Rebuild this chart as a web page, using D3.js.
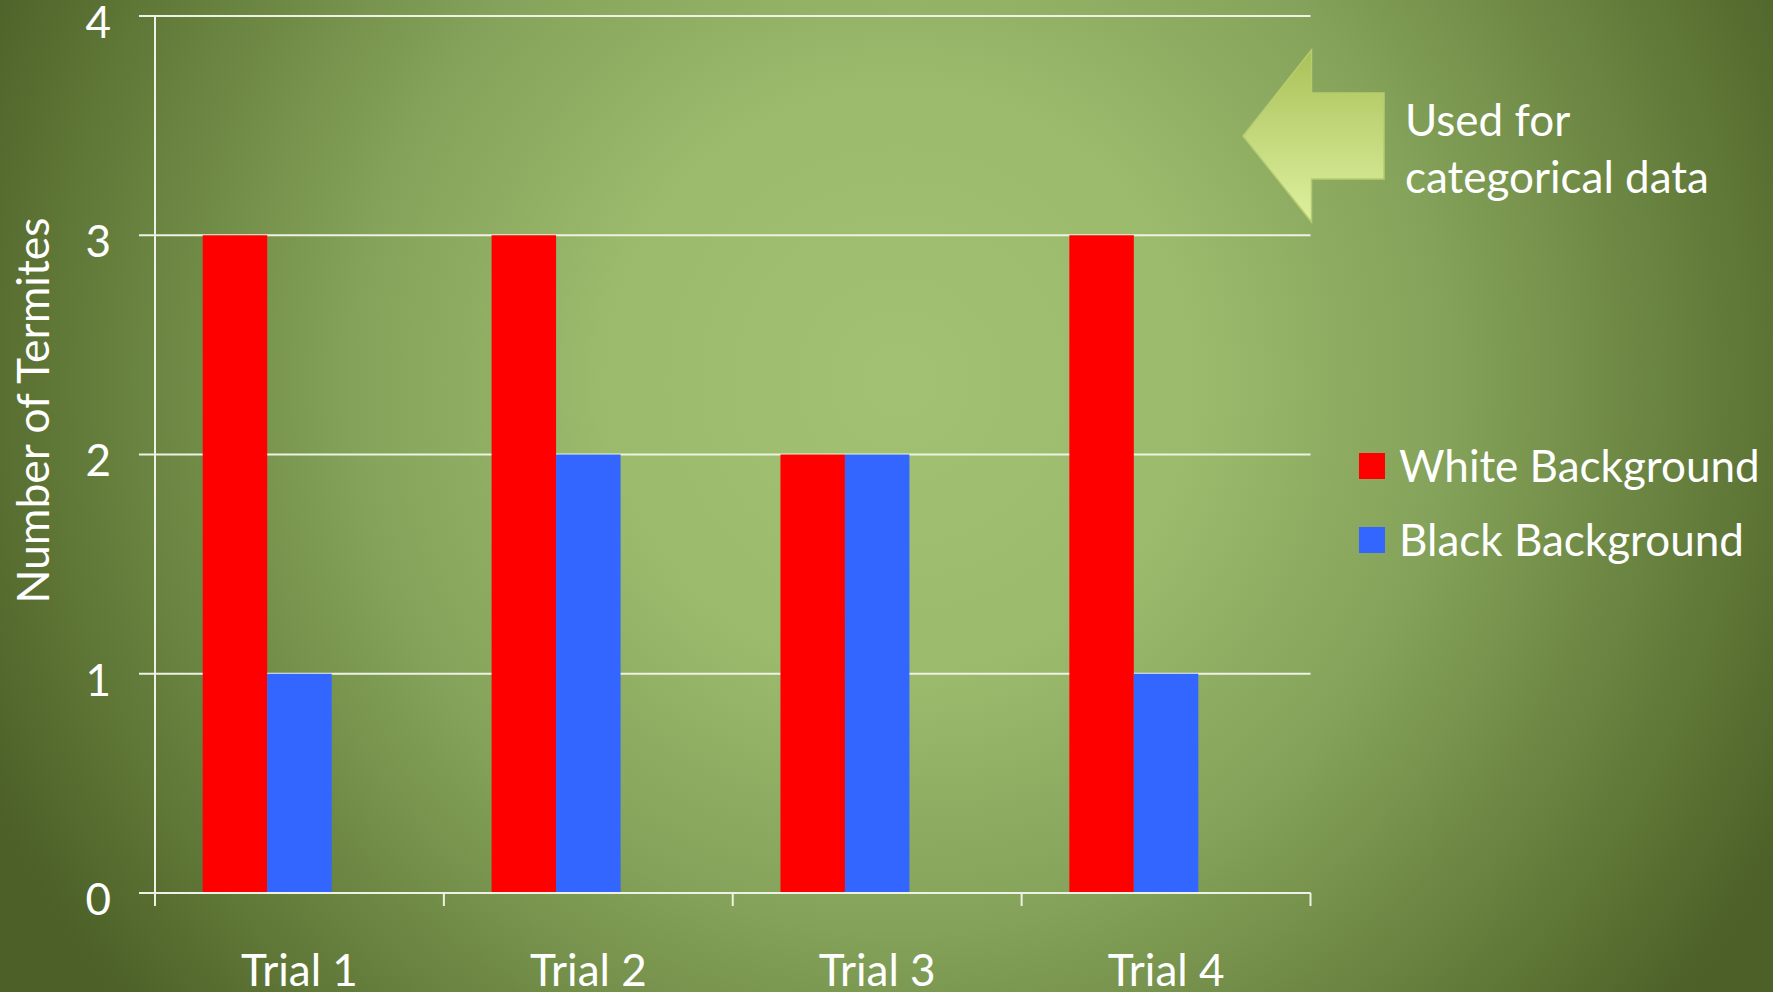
<!DOCTYPE html>
<html>
<head>
<meta charset="utf-8">
<script src="https://cdn.jsdelivr.net/npm/d3@7"></script>
<style>
  html, body { margin: 0; padding: 0; background: #55692f; }
  svg { display: block; }
  text { font-family: "Lato", "Open Sans", sans-serif; fill: #ffffff; }
</style>
</head>
<body>
<script>
// ---- data ----
const categories = ["Trial 1", "Trial 2", "Trial 3", "Trial 4"];
const seriesNames = ["White Background", "Black Background"];
const whiteBackground = [3, 3, 2, 3];
const blackBackground = [1, 2, 2, 1];
const seriesColors = ["#ff0000", "#3366ff"];
const yTicks = [0, 1, 2, 3, 4];
const yTitle = "Number of Termites";
const noteLines = ["Used for", "categorical data"];

const W = 1773, H = 992;
const margin = { left: 155, right: 1310.5, top: 16, bottom: 893 };

const svg = d3.select("body").append("svg").attr("width", W).attr("height", H);
const defs = svg.append("defs");

// background radial gradient
const bg = defs.append("radialGradient").attr("id", "bg")
  .attr("gradientUnits", "userSpaceOnUse")
  .attr("cx", 900).attr("cy", 380).attr("r", 1000);
[[0, "#a2c173"], [0.3, "#9bba6c"], [0.55, "#84a259"], [0.8, "#657e3c"], [1, "#4c6027"]]
  .forEach(([o, c]) => bg.append("stop").attr("offset", o).attr("stop-color", c));
svg.append("rect").attr("width", W).attr("height", H).attr("fill", "url(#bg)");

// arrow gradient
const ag = defs.append("linearGradient").attr("id", "arrowGrad")
  .attr("x1", 0).attr("y1", 0).attr("x2", 0).attr("y2", 1);
ag.append("stop").attr("offset", 0).attr("stop-color", "#a9c158");
ag.append("stop").attr("offset", 1).attr("stop-color", "#def0a0");

// scales
const x0 = d3.scaleBand().domain(categories).range([margin.left, margin.right]).paddingInner(0).paddingOuter(0);
// Excel-style slots: three series slots, the third unused
const x1 = d3.scaleBand().domain([...seriesNames, "_"]).range([0, x0.bandwidth()]).paddingInner(0).paddingOuter(0.74);
const y = d3.scaleLinear().domain([0, 4]).range([margin.bottom, margin.top]);

// gridlines
const grid = svg.append("g");
grid.selectAll("line").data(yTicks).join("line")
  .attr("x1", margin.left - 16).attr("x2", margin.right)
  .attr("y1", d => y(d)).attr("y2", d => y(d))
  .attr("stroke", "#eef2e4").attr("stroke-width", 2);

// y axis line
svg.append("line").attr("x1", margin.left).attr("x2", margin.left)
  .attr("y1", y(4)).attr("y2", y(0) + 13)
  .attr("stroke", "#eef2e4").attr("stroke-width", 2);

// x tick marks
const xTickPos = categories.map(c => x0(c)).concat([margin.right]);
svg.append("g").selectAll("line").data(xTickPos).join("line")
  .attr("x1", d => d).attr("x2", d => d)
  .attr("y1", y(0)).attr("y2", y(0) + 13)
  .attr("stroke", "#eef2e4").attr("stroke-width", 2);

// bars
const rows = categories.map((c, i) => ({ cat: c, vals: [whiteBackground[i], blackBackground[i]] }));
const gBars = svg.append("g");
rows.forEach(r => {
  r.vals.forEach((v, j) => {
    gBars.append("rect")
      .attr("x", x0(r.cat) + x1(seriesNames[j]))
      .attr("y", y(v))
      .attr("width", x1.bandwidth())
      .attr("height", y(0) - y(v))
      .attr("fill", seriesColors[j]);
  });
});
// redraw baseline over bars
svg.append("line").attr("x1", margin.left - 16).attr("x2", margin.right)
  .attr("y1", y(0)).attr("y2", y(0))
  .attr("stroke", "#eef2e4").attr("stroke-width", 2);

// y tick labels
svg.append("g").selectAll("text").data(yTicks).join("text")
  .attr("x", 111).attr("y", d => y(d) + 6).attr("dy", "0.36em")
  .attr("text-anchor", "end").attr("font-size", 44)
  .text(d => d);

// x labels
svg.append("g").selectAll("text").data(categories).join("text")
  .attr("x", d => x0(d) + x0.bandwidth() / 2).attr("y", 986)
  .attr("text-anchor", "middle").attr("font-size", 44)
  .text(d => d);

// y title
svg.append("text")
  .attr("transform", `translate(49, ${(218 + 603) / 2}) rotate(-90)`)
  .attr("text-anchor", "middle").attr("font-size", 44.5)
  .text(yTitle);

// arrow
const ax = { tip: 1243, head: 1311.5, tail: 1384, top: 50, bot: 222, sTop: 93, sBot: 179 };
svg.append("path")
  .attr("d", `M${ax.tip},${(ax.top + ax.bot) / 2} L${ax.head},${ax.top} L${ax.head},${ax.sTop} L${ax.tail},${ax.sTop} L${ax.tail},${ax.sBot} L${ax.head},${ax.sBot} L${ax.head},${ax.bot} Z`)
  .attr("fill", "url(#arrowGrad)").attr("stroke", "#b7cc70").attr("stroke-width", 1.5);

// note text
svg.append("g").selectAll("text").data(noteLines).join("text")
  .attr("x", 1405).attr("y", (d, i) => 136 + i * 57)
  .attr("font-size", 44)
  .text(d => d);

// legend
const lg = svg.append("g");
seriesNames.forEach((s, i) => {
  const cy = 466 + i * 74;
  lg.append("rect").attr("x", 1359).attr("y", cy - 13).attr("width", 26).attr("height", 26).attr("fill", seriesColors[i]);
  lg.append("text").attr("x", 1399).attr("y", cy).attr("dy", "0.36em").attr("font-size", 44).text(s);
});
</script>
</body>
</html>
